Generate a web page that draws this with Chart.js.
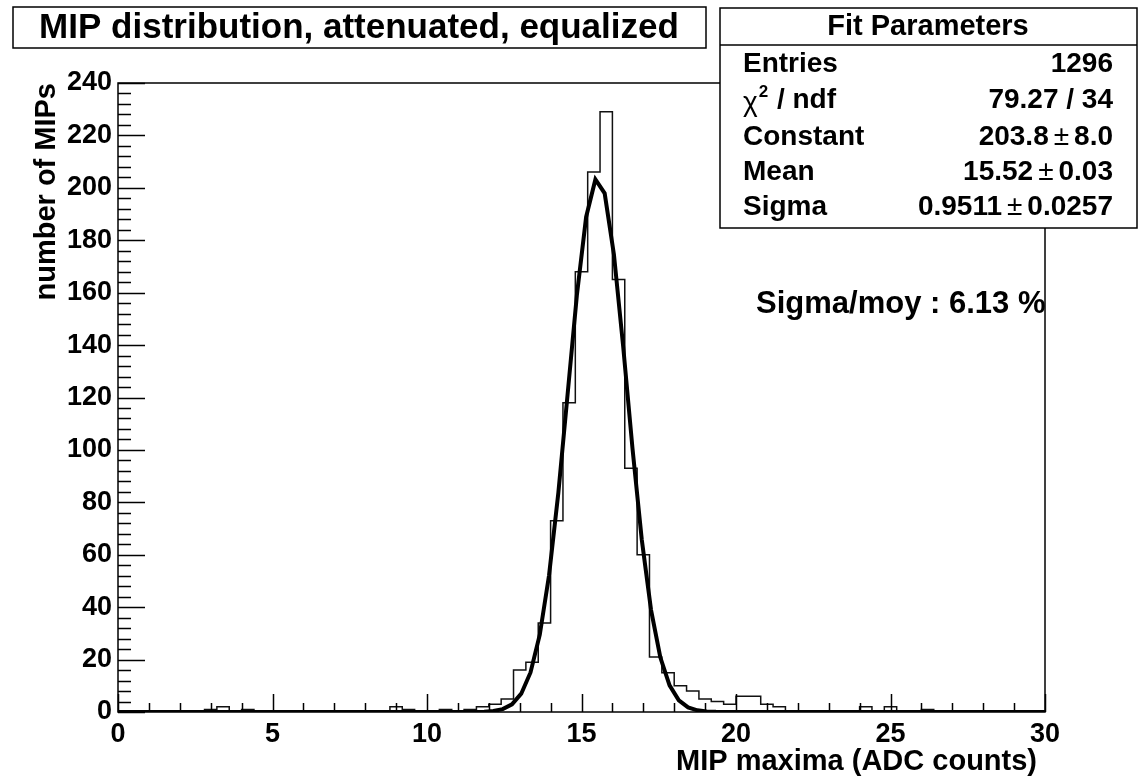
<!DOCTYPE html>
<html>
<head>
<meta charset="utf-8">
<script src="https://cdn.jsdelivr.net/npm/chart.js@4/dist/chart.umd.min.js"></script>
<style>
  html, body { margin: 0; padding: 0; background: #fff; }
  #wrap { width: 1139px; height: 779px; }
</style>
</head>
<body>
<div id="wrap"><canvas id="mipChart" width="1139" height="779"></canvas></div>
<script>
// Histogram: 75 bins of 0.4 ADC counts from 0 to 30
const xMin = 0;
const xMax = 30;
const binWidth = 0.4;
const counts = [
  0, 0, 0, 0, 0, 0, 0, 1, 2, 0, 1, 0, 0, 0, 0,
  0, 0, 0, 0, 0, 0, 0, 2, 1, 0, 0, 1, 0, 1, 2,
  3, 5, 16, 19, 34, 73, 118, 168, 206, 229, 165, 93, 60, 21, 15,
  10, 8, 5, 4, 3, 6, 6, 3, 2, 0, 0, 0, 0, 0, 0,
  2, 0, 2, 0, 0, 1, 0, 0, 0, 0, 0, 0, 0, 0, 0
];

// Gaussian fit curve as drawn (sampled every 0.3)
const fitX = [0, 11.55, 11.85, 12.15, 12.45, 12.75, 13.05, 13.35, 13.65, 13.95, 14.25, 14.55, 14.85,
  15.15, 15.45, 15.75, 16.05, 16.35, 16.65, 16.95, 17.25, 17.55, 17.85, 18.15, 18.45, 18.75, 19.05, 19.35, 30];
const fitY = [0, 0.03, 0.12, 0.38, 1.11, 2.93, 6.99, 15.09, 29.49, 52.17, 83.58, 121.2, 159.0,
  188.9, 203.2, 197.9, 174.5, 139.3, 100.6, 65.81, 38.97, 20.89, 10.14, 4.46, 1.77, 0.64, 0.21, 0.06, 0];

// Axis ticks
const xTicks = [0, 5, 10, 15, 20, 25, 30];
const yTicks = [0, 20, 40, 60, 80, 100, 120, 140, 160, 180, 200, 220, 240];

// Texts
const titulo = 'MIP distribution, attenuated, equalized';
const tituloX = 'MIP maxima (ADC counts)';
const tituloY = 'number of MIPs';
const statTitulo = 'Fit Parameters';
const statEtiquetas = ['Entries', 'χ2 / ndf', 'Constant', 'Mean', 'Sigma'];
const statValores = ['1296', '79.27 / 34', '203.8 ± 8.0', '15.52 ± 0.03', '0.9511 ± 0.0257'];
const notaSigma = 'Sigma/moy : 6.13 %';

const FUENTE = '"Liberation Sans", Arial, Helvetica, sans-serif';

const histData = counts.map((c, i) => ({ x: xMin + i * binWidth, y: c }));
histData.push({ x: xMax, y: counts[counts.length - 1] });
const fitData = fitX.map((x, i) => ({ x: x, y: fitY[i] }));

// Draw inside ticks, frame, title box, stats box and note
const decoracion = {
  id: 'decoracion',
  afterDraw(chart) {
    const { ctx, chartArea: a, scales: { x, y } } = chart;
    ctx.save();
    ctx.strokeStyle = '#000';
    ctx.lineWidth = 1.5;

    // ticks on x axis (inside)
    ctx.beginPath();
    for (let v = xMin; v <= xMax; v++) {
      const px = Math.round(x.getPixelForValue(v)) + 0.5;
      const len = v % 5 === 0 ? 18 : 9;
      ctx.moveTo(px, a.bottom);
      ctx.lineTo(px, a.bottom - len);
    }
    // ticks on y axis (inside)
    for (let v = 0; v <= 240; v += 4) {
      const py = Math.round(y.getPixelForValue(v)) + 0.5;
      const len = v % 20 === 0 ? 27 : 13;
      ctx.moveTo(a.left, py);
      ctx.lineTo(a.left + len, py);
    }
    ctx.stroke();

    // frame
    ctx.strokeRect(a.left, a.top, a.right - a.left, a.bottom - a.top);

    // x axis title, right aligned a bit inside the frame
    ctx.fillStyle = '#000';
    ctx.font = 'bold 29px ' + FUENTE;
    ctx.textAlign = 'right';
    ctx.textBaseline = 'middle';
    ctx.fillText(tituloX, 1037, 762);

    // title box
    ctx.fillStyle = '#fff';
    ctx.fillRect(13, 7, 693, 41);
    ctx.strokeRect(13, 7, 693, 41);
    ctx.fillStyle = '#000';
    ctx.font = 'bold 35px ' + FUENTE;
    ctx.textAlign = 'center';
    ctx.fillText(titulo, 359, 28);

    // stats box
    ctx.fillStyle = '#fff';
    ctx.fillRect(720, 8, 417, 220);
    ctx.strokeRect(720, 8, 417, 220);
    ctx.beginPath();
    ctx.moveTo(720, 45);
    ctx.lineTo(1137, 45);
    ctx.stroke();
    ctx.fillStyle = '#000';
    ctx.font = 'bold 29px ' + FUENTE;
    ctx.textAlign = 'center';
    ctx.fillText(statTitulo, 928, 27);

    const filaY = [64, 100, 137, 172, 207];
    const izq = 743;
    const der = 1113;
    const negrita = 'bold 28px ' + FUENTE;
    const normal = '28px ' + FUENTE;
    statEtiquetas.forEach((et, i) => {
      const yy = filaY[i];
      ctx.textAlign = 'left';
      if (et.startsWith('χ2')) {
        ctx.font = normal;
        ctx.fillText('χ', izq, yy + 3);
        const w1 = ctx.measureText('χ').width;
        ctx.font = 'bold 17px ' + FUENTE;
        ctx.fillText('2', izq + w1 + 1, yy - 8);
        const w2 = ctx.measureText('2').width;
        ctx.font = negrita;
        ctx.fillText(et.slice(2), izq + w1 + w2 + 2, yy);
      } else {
        ctx.font = negrita;
        ctx.fillText(et, izq, yy);
      }
      const val = statValores[i];
      ctx.textAlign = 'right';
      if (val.includes('±')) {
        const [a1, a2] = val.split(' ± ');
        ctx.font = negrita;
        ctx.fillText(a2, der, yy);
        let xx = der - ctx.measureText(a2).width - 5;
        ctx.font = normal;
        ctx.fillText('±', xx, yy);
        xx -= ctx.measureText('±').width + 5;
        ctx.font = negrita;
        ctx.fillText(a1, xx, yy);
      } else {
        ctx.font = negrita;
        ctx.fillText(val, der, yy);
      }
    });

    // note
    ctx.font = 'bold 31px ' + FUENTE;
    ctx.textAlign = 'left';
    ctx.fillText(notaSigma, 756, 304);
    ctx.restore();
  }
};

new Chart(document.getElementById('mipChart'), {
  type: 'scatter',
  data: {
    datasets: [
      {
        label: 'fit',
        data: fitData,
        showLine: true,
        borderColor: '#000',
        borderWidth: 4,
        pointRadius: 0,
        tension: 0,
        order: 0
      },
      {
        label: 'hist',
        data: histData,
        showLine: true,
        stepped: true,
        borderColor: '#111',
        borderWidth: 1.5,
        pointRadius: 0,
        order: 1
      }
    ]
  },
  options: {
    responsive: false,
    animation: false,
    devicePixelRatio: 1,
    layout: { padding: { top: 83, right: 94, left: 0, bottom: 0 } },
    plugins: { legend: { display: false }, tooltip: { enabled: false } },
    scales: {
      x: {
        type: 'linear',
        min: xMin,
        max: xMax,
        afterBuildTicks: (s) => { s.ticks = xTicks.map(v => ({ value: v })); },
        afterFit: (s) => { s.height = 67; },
        grid: { display: false, drawTicks: false },
        border: { display: false },
        ticks: {
          autoSkip: false,
          maxRotation: 0,
          padding: 6,
          color: '#000',
          font: { family: FUENTE, size: 27, weight: 'bold' }
        }
      },
      y: {
        type: 'linear',
        min: 0,
        max: 240,
        afterBuildTicks: (s) => { s.ticks = yTicks.map(v => ({ value: v })); },
        afterFit: (s) => { s.width = 118; },
        grid: { display: false, drawTicks: false },
        border: { display: false },
        ticks: {
          padding: 6,
          color: '#000',
          font: { family: FUENTE, size: 27, weight: 'bold' }
        },
        title: {
          display: true,
          text: tituloY,
          align: 'end',
          color: '#000',
          padding: { top: 30, bottom: 0 },
          font: { family: FUENTE, size: 29, weight: 'bold' }
        }
      }
    }
  },
  plugins: [decoracion]
});
</script>
</body>
</html>
